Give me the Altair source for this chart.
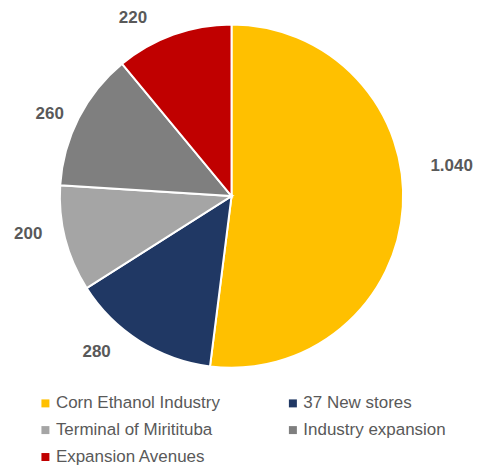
import altair as alt
import pandas as pd

categories = ["Corn Ethanol Industry", "37 New stores", "Terminal of Miritituba",
              "Industry expansion", "Expansion Avenues"]
values = [1040, 280, 200, 260, 220]
value_labels = ["1.040", "280", "200", "260", "220"]
colors = ["#FFC000", "#203864", "#A5A5A5", "#7F7F7F", "#C00000"]

# legend reads row by row in two columns; Vega fills columns first
legend_order = [0, 2, 4, 1, 3]

# label nudges (style): offsets from the slice mid-angle anchor
label_dx = [21, -28, -10, -4, -31]
label_dy = [-43, -13, -12, 9, 10]

df = pd.DataFrame({
    "category": categories,
    "value": values,
    "label": value_labels,
    "order": list(range(len(categories))),
})
total = float(sum(values))

FONT = "Liberation Sans"
theta_scale = alt.Scale(domain=[0, total], zero=True, nice=False)

base = alt.Chart(df).transform_window(
    cum="sum(value)", sort=[alt.SortField("order")], frame=[None, 0]
).transform_calculate(
    start="datum.cum - datum.value",
    mid="datum.cum - datum.value / 2",
)

pie = base.mark_arc(outerRadius=172, stroke="white", strokeWidth=2).encode(
    theta=alt.Theta("start:Q", scale=theta_scale),
    theta2="cum:Q",
    color=alt.Color(
        "category:N",
        scale=alt.Scale(domain=[categories[i] for i in legend_order],
                        range=[colors[i] for i in legend_order]),
        legend=alt.Legend(
            title=None,
            orient="none",
            legendX=29,
            legendY=386,
            columns=2,
            symbolType="square",
            symbolSize=64,
            symbolStrokeWidth=0,
            labelFontSize=17,
            labelFont=FONT,
            labelColor="#595959",
            labelOffset=2,
            rowPadding=9,
            columnPadding=64,
            labelLimit=300,
        ),
    ),
)

layers = [pie]
for i, cat in enumerate(categories):
    t = base.mark_text(
        radius=200, font=FONT, fontSize=17, fontWeight="bold", color="#595959",
        dx=label_dx[i], dy=label_dy[i],
    ).encode(
        theta=alt.Theta("mid:Q", scale=theta_scale),
        text="label:N",
    ).transform_filter(alt.datum.category == cat)
    layers.append(t)

chart = alt.layer(*layers).properties(
    width=448, height=374, padding=0, background="white"
).configure_view(stroke=None)

chart.save("out.html", embed_options={"renderer": "svg", "actions": False})
